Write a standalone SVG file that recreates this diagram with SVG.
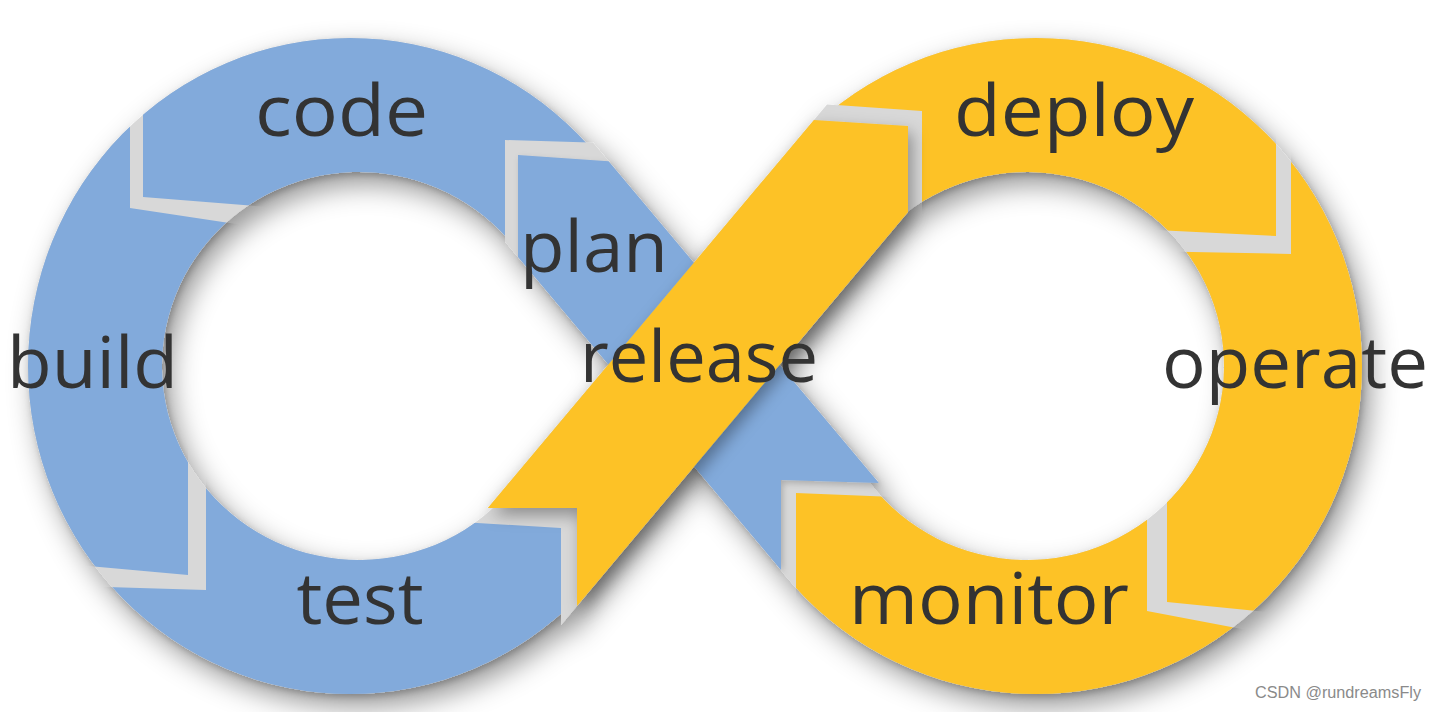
<svg xmlns="http://www.w3.org/2000/svg" xmlns:xlink="http://www.w3.org/1999/xlink" width="1442" height="712" viewBox="0 0 1442 712">
<style>
.blue{fill:#82aadb}
.yellow{fill:#fdc228}
.seg{filter:url(#segsh)}
.lbl{font-family:"Open Sans","Noto Sans","DejaVu Sans",sans-serif;font-size:72px;fill:#333333;text-anchor:middle}
.wm{font-family:"Liberation Sans",Arial,sans-serif;font-size:16px;fill:#8a8a8a}
</style>
<defs>
  <path id="LB" fill-rule="evenodd" d="M28,366 A322,328 0 1,1 672,366 A322,328 0 1,1 28,366 Z M608.4,364.6 L536.6,449.9 A197,194 0 1,1 532.7,274.5 Z"/>
  <path id="RB" fill-rule="evenodd" d="M710,366 A326,328 0 1,1 1362,366 A326,328 0 1,1 710,366 Z M779.6,364.8 L849.8,281.2 A197,194 0 1,1 847.2,445.3 Z"/>
  <clipPath id="cp-code"><polygon points="143,197 143,-50 720,-50 720,146.5 505,140 505,366 330,366 330,212"/></clipPath>
  <clipPath id="cp-build"><polygon points="130,208 130,-50 -50,-50 -50,553.6 188,575 188,366 330,366 330,238"/></clipPath>
  <clipPath id="cp-test"><polygon points="206,590 206,366 400,366 400,518.3 561,528 561,760 -50,760 -50,582.3"/></clipPath>
  <clipPath id="cp-deploy"><polygon points="922,111 700,95.5 700,-50 1276,-50 1276,236 1100,227.2 1100,366 922,366"/></clipPath>
  <clipPath id="cp-operate"><polygon points="1291,254 1291,-50 1500,-50 1500,635.3 1167,602 1167,366 1100,366 1100,250.2"/></clipPath>
  <clipPath id="cp-monitor"><polygon points="1147,611 1147,366 1000,366 1000,501.2 796,493 796,760 1500,760 1500,678.1"/></clipPath>
  <filter id="shadow" x="-15%" y="-15%" width="135%" height="140%">
    <feDropShadow dx="8" dy="12" stdDeviation="14" flood-color="#000" flood-opacity="0.42"/>
  </filter>
  <filter id="segsh" x="-20%" y="-20%" width="140%" height="140%">
    <feDropShadow dx="2" dy="3" stdDeviation="3" flood-color="#000" flood-opacity="0.2"/>
  </filter>
  <filter id="shadow2" x="-20%" y="-20%" width="140%" height="140%">
    <feDropShadow dx="4" dy="7" stdDeviation="8" flood-color="#000" flood-opacity="0.35"/>
  </filter>
</defs>
<rect width="1442" height="712" fill="#ffffff"/>

<g id="connectors" fill="#d8d8d8" filter="url(#shadow)">
  <use href="#LB"/>
  <use href="#RB"/>
  <polygon points="505,140 592.9,142.6 878.9,482.9 781,480 781,570 505,241.6"/>
  <polygon points="827,104.4 922,111 908,212 561,624.9 561,508 487.8,508"/>
</g>

<g id="node-plan">
  <polygon class="blue seg" points="518,155 608.6,161.3 878.9,482.9 781,480 781,570 518,257"/>
  <text class="lbl" x="594" y="272" textLength="148" lengthAdjust="spacingAndGlyphs">plan</text>
</g>
<g id="node-code">
  <use href="#LB" class="blue seg" clip-path="url(#cp-code)"/>
  <text class="lbl" x="341.5" y="136" textLength="173" lengthAdjust="spacingAndGlyphs">code</text>
</g>
<g id="node-build">
  <use href="#LB" class="blue seg" clip-path="url(#cp-build)"/>
  <text class="lbl" x="92.5" y="388" textLength="171" lengthAdjust="spacingAndGlyphs">build</text>
</g>
<g id="node-test">
  <use href="#LB" class="blue seg" clip-path="url(#cp-test)"/>
  <text class="lbl" x="360" y="624" textLength="127" lengthAdjust="spacingAndGlyphs">test</text>
</g>
<g id="node-deploy">
  <use href="#RB" class="yellow seg" clip-path="url(#cp-deploy)"/>
  <text class="lbl" x="1074" y="136" textLength="240" lengthAdjust="spacingAndGlyphs">deploy</text>
</g>
<g id="node-operate">
  <use href="#RB" class="yellow seg" clip-path="url(#cp-operate)"/>
  <text class="lbl" x="1295" y="388" textLength="266" lengthAdjust="spacingAndGlyphs">operate</text>
</g>
<g id="node-monitor">
  <use href="#RB" class="yellow seg" clip-path="url(#cp-monitor)"/>
  <text class="lbl" x="989" y="624" textLength="280" lengthAdjust="spacingAndGlyphs">monitor</text>
</g>
<g id="node-release">
  <polygon class="yellow" filter="url(#shadow2)" points="908,126 908,212 577,605.9 577,508 487.8,508 813.9,119.9"/>
  <text class="lbl" x="699" y="382" textLength="238" lengthAdjust="spacingAndGlyphs">release</text>
</g>

<text class="wm" x="1255" y="698" textLength="166" lengthAdjust="spacingAndGlyphs">CSDN @rundreamsFly</text>
</svg>
